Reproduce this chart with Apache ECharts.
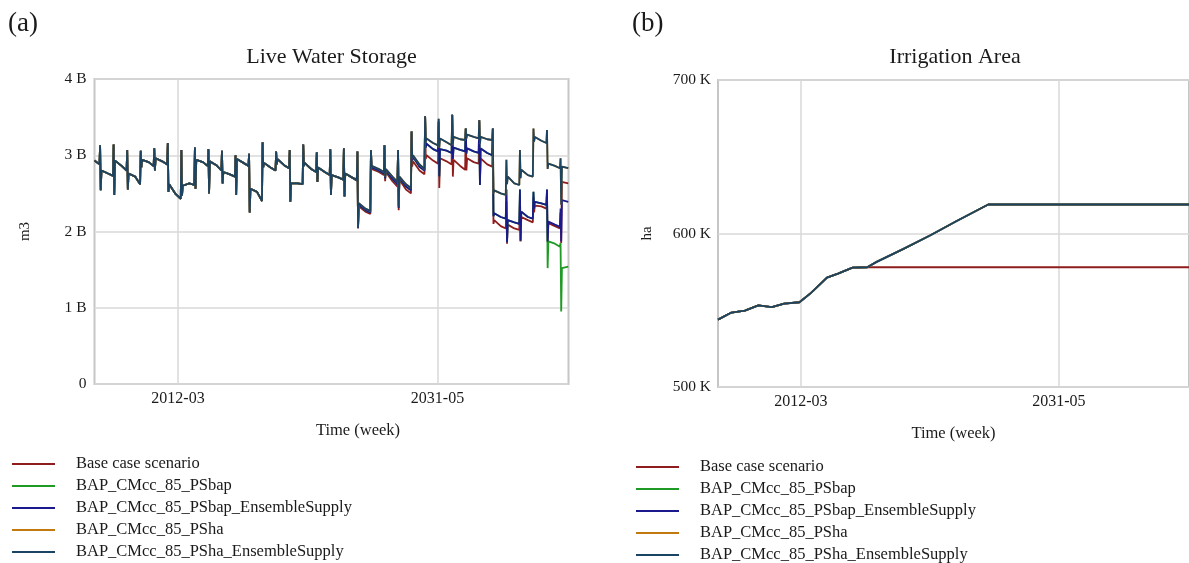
<!DOCTYPE html>
<html>
<head>
<meta charset="utf-8">
<title>Live Water Storage and Irrigation Area</title>
<script src="https://cdn.jsdelivr.net/npm/echarts@6/dist/echarts.min.js"></script>
<style>
  html, body { margin: 0; padding: 0; background: #ffffff; }
  #chart { width: 1189px; height: 563px; }
</style>
</head>
<body>
<div id="chart"></div>
<script>
// ---- Scenarios --------------------------------------------------------------
const scenarioNames = [
  'Base case scenario',
  'BAP_CMcc_85_PSbap',
  'BAP_CMcc_85_PSbap_EnsembleSupply',
  'BAP_CMcc_85_PSha',
  'BAP_CMcc_85_PSha_EnsembleSupply'
];
const scenarioColors = ['#8f1d1d', '#1f9a24', '#1a1a8c', '#c27a10', '#1b4462'];

// ---- Time axis ---------------------------------------------------------------
const axisStart = '2006-01-01';
const axisEnd = '2041-01-01';
const axisTickDates = ['2012-03-01', '2031-05-01'];

// ---- Live water storage (billion m3) ----------------------------------------
// Each year is sampled at the same five dates: start of year, end of the
// dry-season plateau, the yearly peak, the following trough, and the refill level.
const cycleDays = ['01-01', '05-15', '06-01', '06-18', '07-08'];

// 2006–2024: every scenario follows the same storage path.
const sharedStartYear = 2006;
const storageShared = [
  [2.93, 2.88, 3.13, 2.54, 2.80], // 2006
  [2.76, 2.73, 3.14, 2.48, 2.93], // 2007
  [2.86, 2.80, 3.07, 2.55, 2.76], // 2008
  [2.72, 2.62, 3.06, 2.84, 2.94], // 2009
  [2.91, 2.86, 3.09, 2.80, 2.96], // 2010
  [2.92, 2.88, 3.16, 2.52, 2.62], // 2011
  [2.49, 2.43, 3.07, 2.47, 2.60], // 2012
  [2.63, 2.61, 3.10, 2.56, 2.94], // 2013
  [2.91, 2.86, 3.08, 2.50, 2.92], // 2014
  [2.87, 2.80, 3.06, 2.63, 2.78], // 2015
  [2.75, 2.72, 3.00, 2.48, 2.95], // 2016
  [2.90, 2.86, 3.02, 2.25, 2.56], // 2017
  [2.52, 2.40, 3.17, 2.84, 2.90], // 2018
  [2.84, 2.80, 3.05, 2.88, 2.95], // 2019
  [2.87, 2.83, 3.07, 2.39, 2.63], // 2020
  [2.63, 2.62, 3.14, 2.86, 2.90], // 2021
  [2.82, 2.78, 3.04, 2.65, 2.84], // 2022
  [2.78, 2.74, 3.08, 2.48, 2.74], // 2023
  [2.71, 2.68, 3.09, 2.46, 2.76]  // 2024
];

// 2025–2040: the scenarios separate.
const tailStartYear = 2025;
const storageTailBase = [
  [2.71, 2.67, 3.05, 2.04, 2.33], // 2025
  [2.26, 2.23, 3.07, 2.82, 2.84], // 2026
  [2.78, 2.74, 3.13, 2.66, 2.78], // 2027
  [2.66, 2.59, 3.07, 2.28, 2.68], // 2028
  [2.55, 2.50, 3.31, 2.85, 2.92], // 2029
  [2.80, 2.75, 3.51, 2.95, 3.00], // 2030
  [2.93, 2.89, 3.44, 2.57, 2.96], // 2031
  [2.92, 2.88, 3.53, 2.72, 2.94], // 2032
  [2.86, 2.81, 3.35, 2.80, 2.96], // 2033
  [2.91, 2.89, 3.46, 2.61, 2.96], // 2034
  [2.88, 2.85, 3.35, 2.10, 2.15], // 2035
  [2.07, 2.04, 2.40, 1.84, 2.09], // 2036
  [2.04, 2.02, 2.45, 1.87, 2.19], // 2037
  [2.15, 2.12, 2.45, 2.25, 2.34], // 2038
  [2.33, 2.30, 2.50, 1.86, 2.11], // 2039
  [2.07, 2.04, 2.25, 1.85, 2.65]  // 2040
];
const storageTailBapEnsemble = [
  [2.71, 2.67, 3.05, 2.05, 2.35], // 2025
  [2.28, 2.25, 3.07, 2.84, 2.86], // 2026
  [2.80, 2.76, 3.13, 2.70, 2.80], // 2027
  [2.69, 2.62, 3.07, 2.31, 2.70], // 2028
  [2.59, 2.54, 3.31, 2.93, 2.98], // 2029
  [2.85, 2.80, 3.51, 3.10, 3.15], // 2030
  [3.08, 3.05, 3.44, 2.72, 3.08], // 2031
  [3.06, 3.03, 3.53, 2.95, 3.10], // 2032
  [3.07, 3.05, 3.35, 3.02, 3.09], // 2033
  [3.05, 3.03, 3.46, 2.61, 3.09], // 2034
  [3.03, 3.00, 3.35, 2.20, 2.24], // 2035
  [2.19, 2.17, 2.55, 1.86, 2.15], // 2036
  [2.12, 2.10, 2.55, 1.88, 2.26], // 2037
  [2.19, 2.17, 2.52, 2.30, 2.39], // 2038
  [2.37, 2.35, 2.55, 1.87, 2.13], // 2039
  [2.09, 2.06, 2.30, 1.87, 2.41]  // 2040
];
// PSbap tracks its ensemble-supply run until 2039, then falls away.
const bapSplitYear = 2039;
const storageTailBapLate = [
  [2.37, 2.35, 2.55, 1.52, 1.87], // 2039
  [1.84, 1.80, 1.85, 0.95, 1.52]  // 2040
];
const storageTailSha = [
  [2.71, 2.68, 3.05, 2.06, 2.37], // 2025
  [2.30, 2.27, 3.07, 2.86, 2.88], // 2026
  [2.82, 2.78, 3.13, 2.72, 2.82], // 2027
  [2.72, 2.65, 3.07, 2.33, 2.72], // 2028
  [2.62, 2.57, 3.31, 2.96, 3.00], // 2029
  [2.88, 2.82, 3.51, 3.18, 3.22], // 2030
  [3.16, 3.13, 3.48, 3.10, 3.22], // 2031
  [3.17, 3.13, 3.53, 3.15, 3.24], // 2032
  [3.21, 3.20, 3.35, 3.22, 3.27], // 2033
  [3.24, 3.22, 3.46, 3.15, 3.24], // 2034
  [3.21, 3.20, 3.35, 2.50, 2.54], // 2035
  [2.50, 2.48, 2.94, 2.62, 2.72], // 2036
  [2.63, 2.61, 3.07, 2.70, 2.81], // 2037
  [2.74, 2.72, 3.35, 3.18, 3.24], // 2038
  [3.19, 3.16, 3.33, 2.82, 2.89], // 2039
  [2.86, 2.83, 2.96, 2.35, 2.85]  // 2040
];
// Final weekly value of the run, per scenario.
const storageFinalDate = '2040-12-25';
const storageFinalBase = 2.63;
const storageFinalBap = 1.54;
const storageFinalBapEnsemble = 2.39;
const storageFinalSha = 2.83;

// ---- Irrigation area (thousand ha) -------------------------------------------
const irrigationCommonDates = [
  '2006-01-01', '2007-01-01', '2008-01-01', '2009-01-01', '2010-01-01', '2010-12-01',
  '2012-01-20', '2012-12-01', '2014-02-05', '2014-12-01', '2016-01-01', '2017-02-01'
];
const irrigationCommonValues = [
  543.9, 548.5, 549.8, 553.2, 552.1, 554.3,
  555.2, 561.3, 571.3, 573.9, 577.8, 578.0
];
const irrigationBaseDates = ['2041-01-01'];
const irrigationBaseValues = [578.0];
const irrigationExpansionDates = ['2017-10-15', '2019-10-15', '2021-10-15', '2023-09-15', '2026-02-01', '2041-01-01'];
const irrigationExpansionValues = [581.5, 590.0, 598.9, 608.0, 618.9, 618.9];

// ---- Helpers -------------------------------------------------------------------
function ts(s) {
  const p = s.split('-').map(Number);
  return Date.UTC(p[0], p[1] - 1, p[2]);
}
function cyclePoints(startYear, rows) {
  const pts = [];
  rows.forEach(function (row, i) {
    row.forEach(function (v, j) {
      pts.push([ts((startYear + i) + '-' + cycleDays[j]), v * 1e9]);
    });
  });
  return pts;
}
function datedPoints(dates, values, scale) {
  return dates.map(function (d, i) { return [ts(d), values[i] * scale]; });
}
function monthLabel(v) {
  const d = new Date(v);
  return d.getUTCFullYear() + '-' + String(d.getUTCMonth() + 1).padStart(2, '0');
}

const shared = cyclePoints(sharedStartYear, storageShared);
const bapEarly = storageTailBapEnsemble.slice(0, bapSplitYear - tailStartYear);

const storageSeriesData = [
  shared.concat(cyclePoints(tailStartYear, storageTailBase), [[ts(storageFinalDate), storageFinalBase * 1e9]]),
  shared.concat(cyclePoints(tailStartYear, bapEarly), cyclePoints(bapSplitYear, storageTailBapLate), [[ts(storageFinalDate), storageFinalBap * 1e9]]),
  shared.concat(cyclePoints(tailStartYear, storageTailBapEnsemble), [[ts(storageFinalDate), storageFinalBapEnsemble * 1e9]]),
  shared.concat(cyclePoints(tailStartYear, storageTailSha), [[ts(storageFinalDate), storageFinalSha * 1e9]]),
  shared.concat(cyclePoints(tailStartYear, storageTailSha), [[ts(storageFinalDate), storageFinalSha * 1e9]])
];

const irrigationCommon = datedPoints(irrigationCommonDates, irrigationCommonValues, 1000);
const irrigationBase = irrigationCommon.concat(datedPoints(irrigationBaseDates, irrigationBaseValues, 1000));
const irrigationExpansion = irrigationCommon.concat(datedPoints(irrigationExpansionDates, irrigationExpansionValues, 1000));
const irrigationSeriesData = [irrigationBase, irrigationExpansion, irrigationExpansion, irrigationExpansion, irrigationExpansion];

// ---- Styling -------------------------------------------------------------------
const serif = "'Liberation Serif', 'Times New Roman', serif";
const ink = '#1a1a1a';
const tickValues = axisTickDates.map(ts);

function timeAxis(gridIndex, nameShift) {
  return {
    type: 'value',
    gridIndex: gridIndex,
    min: ts(axisStart),
    max: ts(axisEnd),
    name: 'Time (week)',
    nameLocation: 'middle',
    nameGap: 38,
    nameTextStyle: { fontFamily: serif, fontSize: 16.5, color: ink, padding: [0, 0, 0, nameShift] },
    axisLine: { show: false },
    axisTick: { show: false, customValues: tickValues },
    axisLabel: {
      customValues: tickValues,
      formatter: monthLabel,
      fontFamily: serif, fontSize: 16, color: ink, margin: 7
    },
    splitLine: { show: true, lineStyle: { color: '#d9d9d9', width: 1.5 } }
  };
}

function lineSeries(data, i, axisIndex) {
  return {
    type: 'line',
    name: scenarioNames[i],
    data: data,
    xAxisIndex: axisIndex,
    yAxisIndex: axisIndex,
    showSymbol: false,
    symbol: 'none',
    lineStyle: { color: scenarioColors[i], width: 1.8 },
    itemStyle: { color: scenarioColors[i] },
    emphasis: { disabled: true },
    animation: false
  };
}

function legendAt(left, top) {
  return {
    orient: 'vertical',
    left: left,
    top: top,
    height: 200,
    icon: 'rect',
    itemWidth: 43,
    itemHeight: 2,
    itemGap: 0,
    selectedMode: false,
    padding: 0,
    textStyle: { fontFamily: serif, fontSize: 16.5, color: ink, lineHeight: 22, padding: [0, 0, 0, 16] },
    data: scenarioNames
  };
}

const titleStyle = { fontFamily: serif, fontSize: 22, fontWeight: 'normal', color: ink };
const panelStyle = { fontFamily: serif, fontSize: 27, fontWeight: 'normal', color: ink };

const option = {
  backgroundColor: '#ffffff',
  animation: false,
  title: [
    { text: '(a)', left: 8, top: 10, padding: 0, textStyle: panelStyle },
    { text: 'Live Water Storage', left: 331.5, top: 46, padding: 0, textAlign: 'center', textStyle: titleStyle },
    { text: '(b)', left: 632, top: 10, padding: 0, textStyle: panelStyle },
    { text: 'Irrigation Area', left: 955, top: 46, padding: 0, textAlign: 'center', textStyle: titleStyle }
  ],
  legend: [legendAt(12, 453), legendAt(636, 456)],
  grid: [
    { left: 94.5, top: 79, width: 474, height: 305, show: true, borderColor: '#c6c6c6', borderWidth: 2, backgroundColor: 'transparent' },
    { left: 718, top: 80, width: 474, height: 307, show: true, borderColor: '#c6c6c6', borderWidth: 2, backgroundColor: 'transparent' }
  ],
  xAxis: [timeAxis(0, 53), timeAxis(1, 0)],
  yAxis: [
    {
      type: 'value', gridIndex: 0, min: 0, max: 4e9, interval: 1e9,
      name: 'm3', nameLocation: 'middle', nameGap: 62, nameRotate: 90,
      nameTextStyle: { fontFamily: serif, fontSize: 15, color: ink },
      axisLine: { show: false }, axisTick: { show: false },
      axisLabel: {
        fontFamily: serif, fontSize: 15.5, color: ink, margin: 8,
        formatter: function (v) { return v === 0 ? '0' : (v / 1e9) + ' B'; }
      },
      splitLine: { show: true, lineStyle: { color: '#d9d9d9', width: 1.5 } }
    },
    {
      type: 'value', gridIndex: 1, min: 500000, max: 700000, interval: 100000,
      name: 'ha', nameLocation: 'middle', nameGap: 63, nameRotate: 90,
      nameTextStyle: { fontFamily: serif, fontSize: 15, color: ink },
      axisLine: { show: false }, axisTick: { show: false },
      axisLabel: {
        fontFamily: serif, fontSize: 15.5, color: ink, margin: 7,
        formatter: function (v) { return (v / 1000) + ' K'; }
      },
      splitLine: { show: true, lineStyle: { color: '#d9d9d9', width: 1.5 } }
    }
  ],
  series: storageSeriesData.map(function (d, i) { return lineSeries(d, i, 0); })
    .concat(irrigationSeriesData.map(function (d, i) { return lineSeries(d, i, 1); }))
};

const chart = echarts.init(document.getElementById('chart'), null, { renderer: 'canvas' });
chart.setOption(option);
</script>
</body>
</html>
